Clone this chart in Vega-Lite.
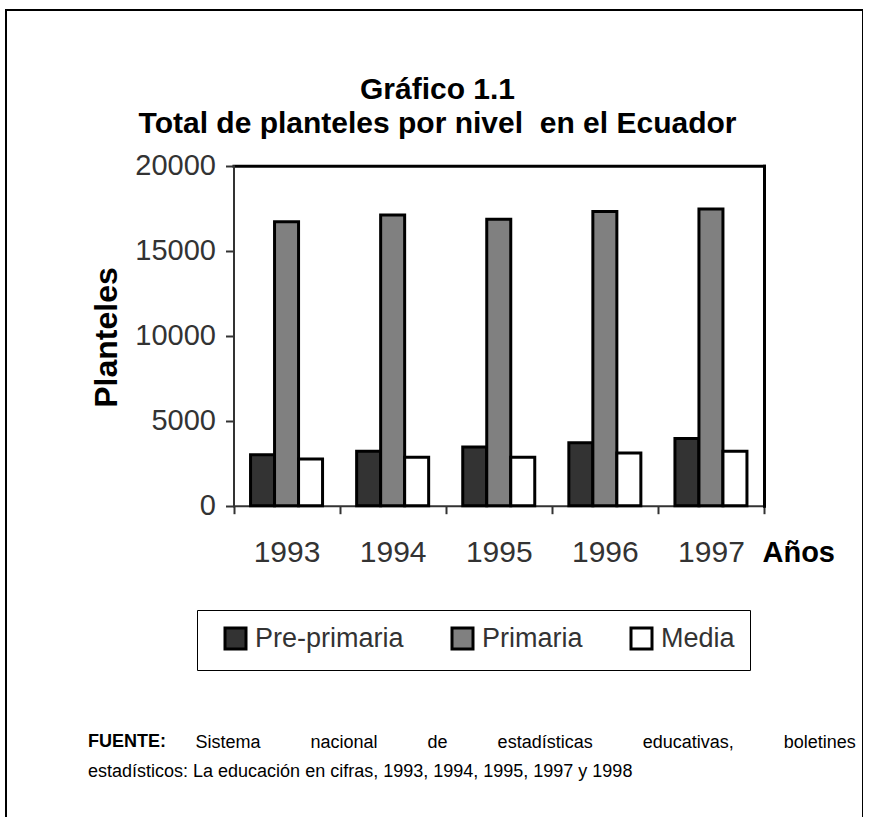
{
  "$schema": "https://vega.github.io/schema/vega-lite/v6.json",
  "autosize": {"type": "none"},
  "padding": {"left": 6, "top": 10, "right": 0, "bottom": 0},
  "width": 857,
  "height": 820,
  "background": "white",
  "title": {
    "text": "FUENTE:",
    "subtitle": "estadísticos: La educación en cifras, 1993, 1994, 1995, 1997 y 1998",
    "orient": "top",
    "anchor": "start",
    "frame": "group",
    "dx": 82,
    "offset": -771,
    "fontSize": 18,
    "fontWeight": "bold",
    "color": "black",
    "subtitleFontSize": 18,
    "subtitleFontWeight": "normal",
    "subtitleColor": "black",
    "subtitlePadding": 12
  },
  "data": {
    "values": [
      {"year": "1993", "nivel": "Pre-primaria", "value": 3000},
      {"year": "1993", "nivel": "Primaria", "value": 16700},
      {"year": "1993", "nivel": "Media", "value": 2750},
      {"year": "1994", "nivel": "Pre-primaria", "value": 3200},
      {"year": "1994", "nivel": "Primaria", "value": 17100},
      {"year": "1994", "nivel": "Media", "value": 2850},
      {"year": "1995", "nivel": "Pre-primaria", "value": 3450},
      {"year": "1995", "nivel": "Primaria", "value": 16850},
      {"year": "1995", "nivel": "Media", "value": 2850},
      {"year": "1996", "nivel": "Pre-primaria", "value": 3700},
      {"year": "1996", "nivel": "Primaria", "value": 17300},
      {"year": "1996", "nivel": "Media", "value": 3100},
      {"year": "1997", "nivel": "Pre-primaria", "value": 3950},
      {"year": "1997", "nivel": "Primaria", "value": 17450},
      {"year": "1997", "nivel": "Media", "value": 3200}
    ]
  },
  "resolve": {"axis": {"x": "independent", "y": "independent"}},
  "layer": [
    {
      "mark": {"type": "bar", "stroke": "black", "strokeWidth": 3},
      "encoding": {
        "x": {
          "field": "year", "type": "nominal",
          "scale": {"range": [227.5, 758], "paddingInner": 0, "paddingOuter": 0},
          "axis": {
            "orient": "bottom", "offset": -324.3, "labelAngle": 0,
            "tickBand": "extent", "tickSize": 8, "tickWidth": 2, "tickColor": "#333",
            "domainColor": "#333", "domainWidth": 2,
            "labelFontSize": 30, "labelColor": "#333", "labelPadding": 24,
            "title": "Años", "titleFontSize": 29, "titleFontWeight": "bold", "titleColor": "black",
            "titleX": 756, "titleY": 47, "titleAlign": "left", "titleBaseline": "middle"
          }
        },
        "xOffset": {
          "field": "nivel", "type": "nominal",
          "sort": ["Pre-primaria", "Primaria", "Media"],
          "scale": {"paddingInner": 0, "paddingOuter": 0.71}
        },
        "y": {
          "field": "value", "type": "quantitative",
          "scale": {"domain": [0, 20000], "range": [495.7, 155.7], "nice": false, "zero": true},
          "axis": {
            "orient": "left", "offset": -227.5,
            "values": [0, 5000, 10000, 15000, 20000], "format": "d",
            "grid": false, "tickSize": 8, "tickWidth": 2, "tickColor": "#333",
            "domainColor": "#333", "domainWidth": 2,
            "labelFontSize": 29, "labelColor": "#333", "labelPadding": 10,
            "title": "Planteles", "titleFontSize": 32, "titleFontWeight": "bold", "titleColor": "black",
            "titleX": -127.5, "titleY": 327, "titleAngle": -90, "titleAlign": "center", "titleBaseline": "middle"
          }
        },
        "color": {
          "field": "nivel", "type": "nominal",
          "sort": ["Pre-primaria", "Primaria", "Media"],
          "scale": {"domain": ["Pre-primaria", "Primaria", "Media"], "range": ["#333333", "#808080", "#ffffff"]},
          "legend": {
            "title": null, "orient": "none", "legendX": 191, "legendY": 600,
            "direction": "horizontal", "columns": 3,
            "strokeColor": "black", "padding": 15,
            "symbolType": "square", "symbolSize": 441, "symbolStrokeColor": "black", "symbolStrokeWidth": 3,
            "symbolOffset": 10, "labelFontSize": 27, "labelColor": "#333", "labelOffset": 6,
            "labelLimit": 300, "columnPadding": 35, "symbolOpacity": 1
          }
        }
      }
    },
    {
      "mark": {"type": "bar", "opacity": 0},
      "encoding": {
        "x": {
          "field": "year", "type": "nominal",
          "axis": {
            "orient": "top", "offset": -155.7, "ticks": false, "labels": false,
            "domainColor": "black", "domainWidth": 3,
            "title": ["Gráfico 1.1", "Total de planteles por nivel\u00a0 en el Ecuador"],
            "titleFontSize": 30, "titleFontWeight": "bold", "titleColor": "black",
            "titleX": 431, "titleY": -67.7, "titleAlign": "center", "titleBaseline": "alphabetic",
            "titleLineHeight": 34, "titleLimit": 1000
          }
        },
        "y": {
          "field": "value", "type": "quantitative",
          "axis": {
            "orient": "right", "offset": -99, "ticks": false, "labels": false, "grid": false,
            "domainColor": "black", "domainWidth": 3,
            "title": "Sistema\u00a0\u00a0\u00a0\u00a0\u00a0\u00a0\u00a0\u00a0\u00a0\u00a0nacional\u00a0\u00a0\u00a0\u00a0\u00a0\u00a0\u00a0\u00a0\u00a0\u00a0de\u00a0\u00a0\u00a0\u00a0\u00a0\u00a0\u00a0\u00a0\u00a0\u00a0estadísticas\u00a0\u00a0\u00a0\u00a0\u00a0\u00a0\u00a0\u00a0\u00a0\u00a0educativas,\u00a0\u00a0\u00a0\u00a0\u00a0\u00a0\u00a0\u00a0\u00a0\u00a0boletines",
            "titleFontSize": 18, "titleFontWeight": "normal", "titleColor": "black",
            "titleX": -569, "titleY": 737, "titleAngle": 0, "titleAlign": "left", "titleBaseline": "alphabetic",
            "titleLimit": 1000
          }
        }
      }
    }
  ],
  "config": {
    "font": "Liberation Sans",
    "view": {"stroke": "black", "strokeWidth": 2},
    "axis": {"domainCap": "square"}
  }
}
